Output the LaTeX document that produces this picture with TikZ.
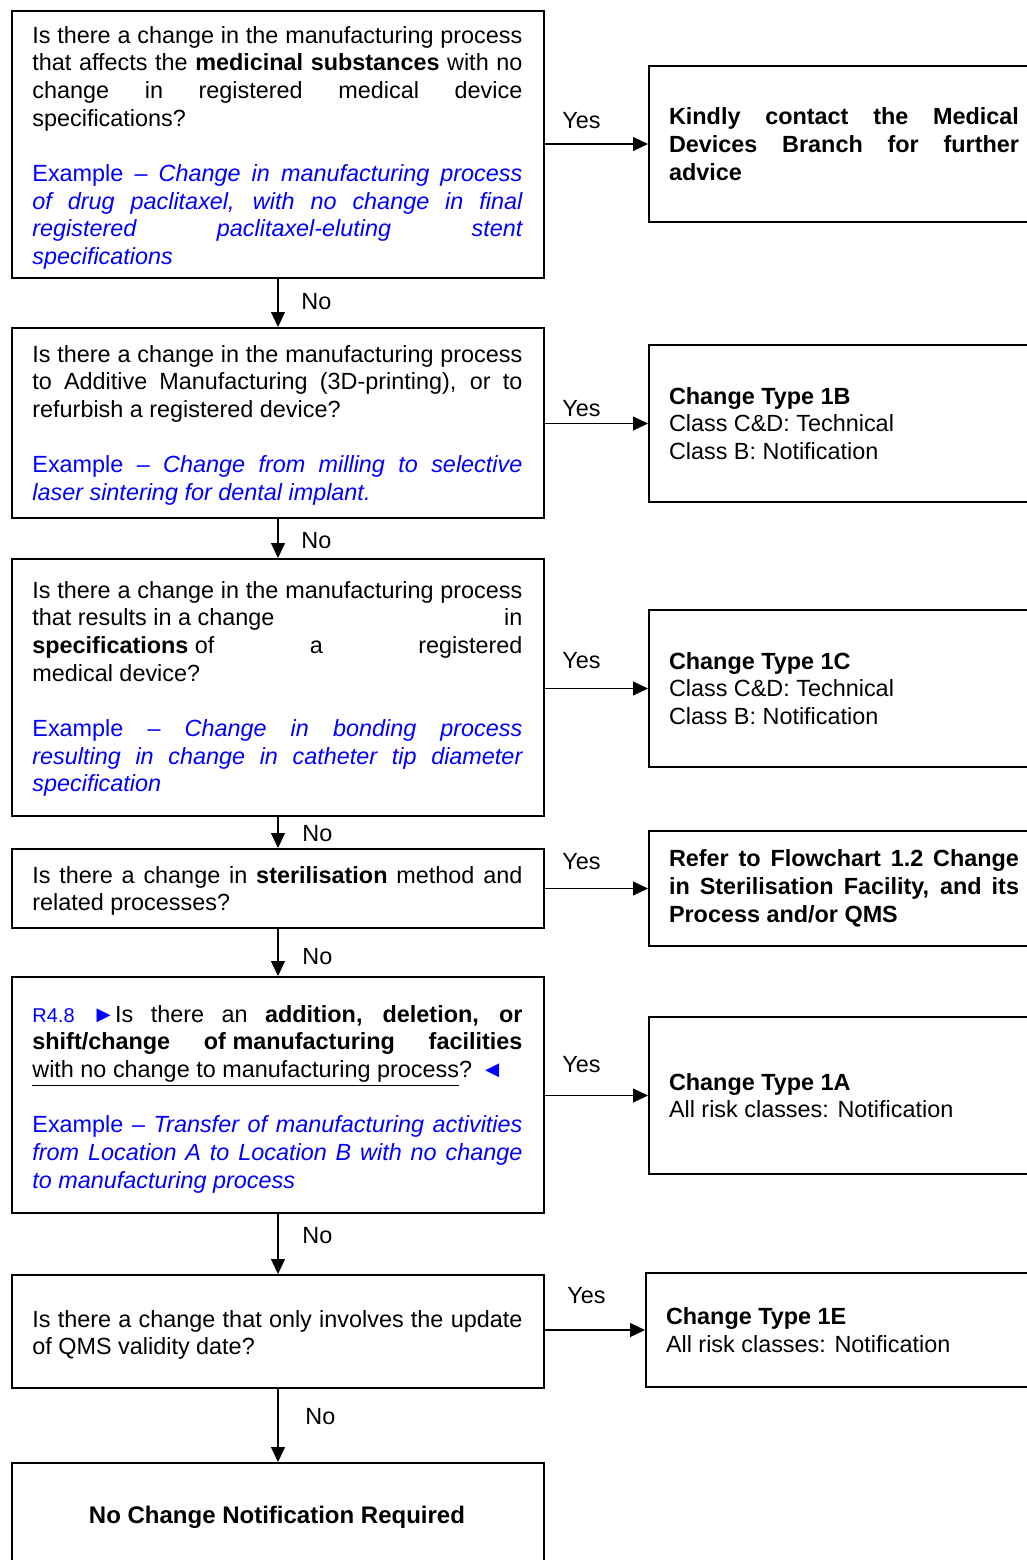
\documentclass[tikz,border=0pt]{standalone}
\usepackage{fontspec}
\setmainfont{Liberation Sans}
\usetikzlibrary{arrows.meta}
\definecolor{exblue}{RGB}{0,0,255}
\newcommand\fcfont{\fontsize{11.7}{13.85}\selectfont\tolerance=10000\hyphenpenalty=10000\exhyphenpenalty=10000}
\newcommand\exsp{\par\vspace{13.85pt}}
\begin{document}
\begin{tikzpicture}[x=0.5pt,y=-0.5pt,
 qframe/.style={draw, line width=1pt, inner sep=0pt, anchor=north west, minimum width=266pt},
 qtext/.style={anchor=base west, inner sep=0pt, text width=245pt, align=justify, font=\fcfont},
 rbox/.style={draw, line width=1pt, anchor=north west, inner xsep=10pt, inner ysep=0pt, text width=175pt, align=justify, font=\fcfont},
 arr/.style={line width=0.6pt, -{Triangle[length=7.5pt,width=7pt]}},
 lab/.style={anchor=base west, inner sep=0pt, font=\fcfont}]
\useasboundingbox (0,0) rectangle (1027,1560);
\clip (0,0) rectangle (1027,1560);

% question frames
\node[qframe, minimum height=133.5pt] (q1) at (11,10) {};
\node[qframe, minimum height=95pt] (q2) at (11,327) {};
\node[qframe, minimum height=128.5pt] (q3) at (11,558) {};
\node[qframe, minimum height=39.5pt] (q4) at (11,848) {};
\node[qframe, minimum height=118pt] (q5) at (11,976) {};
\node[qframe, minimum height=56.5pt] (q6) at (11,1274) {};
\node[qframe, minimum height=80pt] (q7) at (11,1462) {};

% question texts
\node[qtext] (t1) at (32,43) {Is there a change in the manufacturing process\linebreak that affects the \textbf{medicinal substances} with no\linebreak change in registered medical device\linebreak specifications?\exsp{\color{exblue}Example -- \textit{Change in manufacturing process\linebreak of drug paclitaxel, with no change in final\linebreak registered paclitaxel-eluting stent\linebreak specifications}}};
\node[qtext] (t2) at (32,362) {Is there a change in the manufacturing process\linebreak to Additive Manufacturing (3D-printing), or to\linebreak refurbish a registered device?\exsp{\color{exblue}Example -- \textit{Change from milling to selective\linebreak laser sintering for dental implant.}}};
\node[qtext] (t3) at (32,598) {Is there a change in the manufacturing process\linebreak that results in a change\hfill in\linebreak \textbf{specifications} of\hfill a\hfill registered\linebreak medical device?\exsp{\color{exblue}Example -- \textit{Change in bonding process\linebreak resulting in change in catheter tip diameter\linebreak specification}}};
\node[qtext] (t4) at (32,883) {Is there a change in \textbf{sterilisation} method and\linebreak related processes?};
\node[qtext] (t5) at (32,1022) {{\color{exblue}\fontsize{10}{13.85}\selectfont R4.8} {\color{exblue}►}Is there an \textbf{addition, deletion, or\linebreak shift/change\hfill of manufacturing\hfill facilities}\linebreak \underline{with no change to manufacturing process}? {\color{exblue}◄}\exsp{\color{exblue}Example -- \textit{Transfer of manufacturing activities\linebreak from Location A to Location B with no change\linebreak to manufacturing process}}};
\node[qtext] (t6) at (32,1327) {Is there a change that only involves the update\linebreak of QMS validity date?};
\node[anchor=base, inner sep=0pt, font=\fontsize{12}{14}\selectfont\bfseries] (t7) at (277,1523) {No Change Notification Required};

% result boxes
\node[rbox, minimum height=78pt] (r1) at (648,65) {\textbf{Kindly contact the Medical\linebreak Devices Branch for further\linebreak advice}};
\node[rbox, minimum height=78.5pt] (r2) at (648,344) {\textbf{Change Type 1B}\\Class C\&D: Technical\\Class B: Notification};
\node[rbox, minimum height=78.5pt] (r3) at (648,609) {\textbf{Change Type 1C}\\Class C\&D: Technical\\Class B: Notification};
\node[rbox, minimum height=57.5pt] (r4) at (648,830) {\textbf{Refer to Flowchart 1.2 Change\linebreak in Sterilisation Facility, and its\linebreak Process and/or QMS}};
\node[rbox, minimum height=78.5pt] (r5) at (648,1016) {\textbf{Change Type 1A}\\All risk classes: Notification};
\node[rbox, minimum height=57pt] (r6) at (645,1272) {\textbf{Change Type 1E}\\All risk classes: Notification};

% No arrows
\draw[arr] (q1.south) -- (q2.north);
\draw[arr] (q2.south) -- (q3.north);
\draw[arr] (q3.south) -- (q4.north);
\draw[arr] (q4.south) -- (q5.north);
\draw[arr] (q5.south) -- (q6.north);
\draw[arr] (q6.south) -- (q7.north);

% Yes arrows
\draw[arr] (q1.east |- r1.west) -- (r1.west);
\draw[arr] (q2.east |- r2.west) -- (r2.west);
\draw[arr] (q3.east |- r3.west) -- (r3.west);
\draw[arr] (q4.east |- r4.west) -- (r4.west);
\draw[arr] (q5.east |- r5.west) -- (r5.west);
\draw[arr] (q6.east |- r6.west) -- (r6.west);

% labels
\node[lab] (y1) at (562,128) {Yes};
\node[lab] (y2) at (562,416) {Yes};
\node[lab] (y3) at (562,668) {Yes};
\node[lab] (y4) at (562,869) {Yes};
\node[lab] (y5) at (562,1072) {Yes};
\node[lab] (y6) at (567,1303) {Yes};
\node[lab] (n1) at (301,309) {No};
\node[lab] (n2) at (301,548) {No};
\node[lab] (n3) at (302,841) {No};
\node[lab] (n4) at (302,964) {No};
\node[lab] (n5) at (302,1243) {No};
\node[lab] (n6) at (305,1424) {No};
\end{tikzpicture}
\end{document}
